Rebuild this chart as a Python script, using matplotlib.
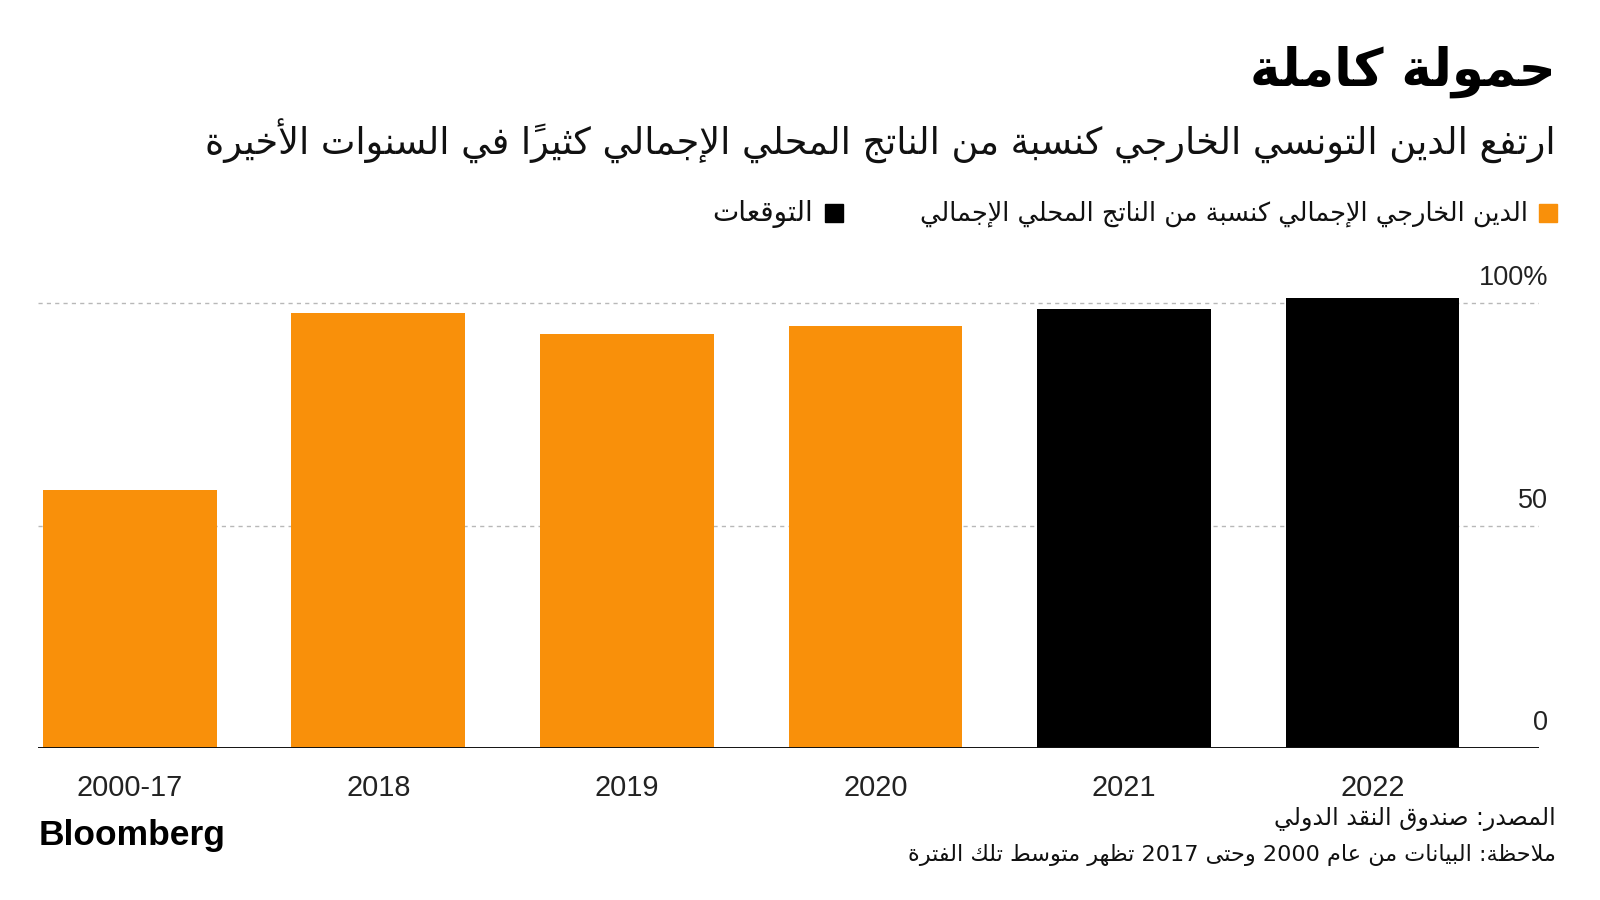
import matplotlib
matplotlib.use('Agg')
import matplotlib.pyplot as plt
from matplotlib.patches import Rectangle

# data
cats = ['2000-17', '2018', '2019', '2020', '2021', '2022']
vals = [58.0, 97.7, 93.1, 94.9, 98.8, 101.1]
forecast = [False, False, False, False, True, True]
y_ticks = [0, 50, 100]
y_tick_labels = ['0', '50', '100%']

title = 'حمولة كاملة'
subtitle = 'ارتفع الدين التونسي الخارجي كنسبة من الناتج المحلي الإجمالي كثيراً في السنوات الأخيرة'
legend_hist = 'الدين الخارجي الإجمالي كنسبة من الناتج المحلي الإجمالي'
legend_fc = 'التوقعات'
source = 'المصدر: صندوق النقد الدولي'
note = 'ملاحظة: البيانات من عام 2000 وحتى 2017 تظهر متوسط تلك الفترة'

ORANGE = '#F9900A'
AR = ['DejaVu Sans']
LAT = ['Liberation Sans', 'DejaVu Sans']

### arabic presentation forms (isolated, final, initial, medial)
FORMS = {
    'ء': ('\uFE80',),
    'آ': ('\uFE81', '\uFE82'), 'أ': ('\uFE83', '\uFE84'), 'ؤ': ('\uFE85', '\uFE86'),
    'إ': ('\uFE87', '\uFE88'), 'ئ': ('\uFE89', '\uFE8A', '\uFE8B', '\uFE8C'),
    'ا': ('\uFE8D', '\uFE8E'), 'ب': ('\uFE8F', '\uFE90', '\uFE91', '\uFE92'),
    'ة': ('\uFE93', '\uFE94'), 'ت': ('\uFE95', '\uFE96', '\uFE97', '\uFE98'),
    'ث': ('\uFE99', '\uFE9A', '\uFE9B', '\uFE9C'), 'ج': ('\uFE9D', '\uFE9E', '\uFE9F', '\uFEA0'),
    'ح': ('\uFEA1', '\uFEA2', '\uFEA3', '\uFEA4'), 'خ': ('\uFEA5', '\uFEA6', '\uFEA7', '\uFEA8'),
    'د': ('\uFEA9', '\uFEAA'), 'ذ': ('\uFEAB', '\uFEAC'), 'ر': ('\uFEAD', '\uFEAE'),
    'ز': ('\uFEAF', '\uFEB0'), 'س': ('\uFEB1', '\uFEB2', '\uFEB3', '\uFEB4'),
    'ش': ('\uFEB5', '\uFEB6', '\uFEB7', '\uFEB8'), 'ص': ('\uFEB9', '\uFEBA', '\uFEBB', '\uFEBC'),
    'ض': ('\uFEBD', '\uFEBE', '\uFEBF', '\uFEC0'), 'ط': ('\uFEC1', '\uFEC2', '\uFEC3', '\uFEC4'),
    'ظ': ('\uFEC5', '\uFEC6', '\uFEC7', '\uFEC8'), 'ع': ('\uFEC9', '\uFECA', '\uFECB', '\uFECC'),
    'غ': ('\uFECD', '\uFECE', '\uFECF', '\uFED0'), 'ف': ('\uFED1', '\uFED2', '\uFED3', '\uFED4'),
    'ق': ('\uFED5', '\uFED6', '\uFED7', '\uFED8'), 'ك': ('\uFED9', '\uFEDA', '\uFEDB', '\uFEDC'),
    'ل': ('\uFEDD', '\uFEDE', '\uFEDF', '\uFEE0'), 'م': ('\uFEE1', '\uFEE2', '\uFEE3', '\uFEE4'),
    'ن': ('\uFEE5', '\uFEE6', '\uFEE7', '\uFEE8'), 'ه': ('\uFEE9', '\uFEEA', '\uFEEB', '\uFEEC'),
    'و': ('\uFEED', '\uFEEE'), 'ى': ('\uFEEF', '\uFEF0'),
    'ي': ('\uFEF1', '\uFEF2', '\uFEF3', '\uFEF4'),
}
LAM_ALEF = {'آ': ('\uFEF5', '\uFEF6'), 'أ': ('\uFEF7', '\uFEF8'),
            'إ': ('\uFEF9', '\uFEFA'), 'ا': ('\uFEFB', '\uFEFC')}


def is_mark(c):
    return '\u064B' <= c <= '\u0652'


def ar(s):
    # shape arabic letters + put in visual (left to right) order
    toks = []
    i = 0
    while i < len(s):
        if s[i] == 'ل' and i + 1 < len(s) and s[i + 1] in LAM_ALEF:
            toks.append(('LA', s[i + 1])); i += 2
        else:
            toks.append(('C', s[i])); i += 1

    def joins(t):
        return t[0] == 'LA' or (t[1] in FORMS and t[1] != 'ء')

    def dual(t):
        return t[0] == 'C' and t[1] in FORMS and len(FORMS[t[1]]) == 4

    clusters = []
    for k, t in enumerate(toks):
        if t[0] == 'C' and is_mark(t[1]):
            if clusters:
                clusters[-1] += t[1]
            else:
                clusters.append(t[1])
            continue
        if t[0] == 'C' and t[1] not in FORMS:
            clusters.append(t[1]); continue
        p = k - 1
        while p >= 0 and toks[p][0] == 'C' and is_mark(toks[p][1]): p -= 1
        n = k + 1
        while n < len(toks) and toks[n][0] == 'C' and is_mark(toks[n][1]): n += 1
        cp = p >= 0 and dual(toks[p]) and joins(t)
        cn = n < len(toks) and dual(t) and joins(toks[n])
        if t[0] == 'LA':
            clusters.append(LAM_ALEF[t[1]][1 if cp else 0]); continue
        f = FORMS[t[1]]
        if cp and cn: g = f[3]
        elif cp: g = f[1]
        elif cn: g = f[2]
        else: g = f[0]
        clusters.append(g)
    vis = clusters[::-1]
    res = []; run = []
    for c in vis:
        if c.isdigit():
            run.append(c)
        else:
            if run: res.extend(run[::-1]); run = []
            res.append(c)
    if run: res.extend(run[::-1])
    return ''.join(res)


fig = plt.figure(figsize=(16, 9), dpi=100)
fig.patch.set_facecolor('white')
ax = fig.add_axes([38 / 1600, 1 - 748 / 900, 1501 / 1600, 467 / 900])

x = list(range(len(cats)))
colors = ['black' if f else ORANGE for f in forecast]
ax.bar(x, vals, width=0.70, color=colors, zorder=3)
ax.set_xlim(-0.37, 5.67)
ax.set_ylim(0, 105)

for v in y_ticks[1:]:
    ax.axhline(v, color='#b8b8b8', lw=1, ls=(0, (3, 3)), zorder=1)
ax.axhline(0, color='#111111', lw=1.4, zorder=4)

for s in ax.spines.values():
    s.set_visible(False)
ax.set_yticks([])
ax.set_xticks(x)
ax.set_xticklabels(cats, fontsize=20.8, family=LAT, color='#222222')
ax.tick_params(axis='x', length=0, pad=19)

for v, lab in zip(y_ticks, y_tick_labels):
    ax.annotate(lab, xy=(1, v), xycoords=('axes fraction', 'data'), xytext=(9, 12),
                textcoords='offset pixels', ha='right', va='bottom',
                fontsize=19.5, family=LAT, color='#222222')

r = fig.canvas.get_renderer()


def fit(t, w_px):
    w = t.get_window_extent(r).width
    t.set_fontsize(t.get_fontsize() * w_px / w)


t = fig.text(1556 / 1600, 1 - 72 / 900, ar(title), ha='right', va='center',
             fontsize=40, fontweight='bold', family=AR, color='black')
fit(t, 306)
t = fig.text(1556 / 1600, 1 - 141 / 900, ar(subtitle), ha='right', va='center',
             fontsize=24, family=AR, color='#111111')
fit(t, 1355)

fig.add_artist(Rectangle((1539 / 1600, 1 - 222 / 900), 18 / 1600, 18 / 900,
                         color=ORANGE, transform=fig.transFigure))
t = fig.text(1528 / 1600, 1 - 214 / 900, ar(legend_hist), ha='right', va='center',
             fontsize=18, family=AR, color='#111111')
fit(t, 608)
fig.add_artist(Rectangle((825 / 1600, 1 - 222 / 900), 18 / 1600, 18 / 900,
                         color='black', transform=fig.transFigure))
t = fig.text(813 / 1600, 1 - 214 / 900, ar(legend_fc), ha='right', va='center',
             fontsize=18, family=AR, color='#111111')
fit(t, 101)

t = fig.text(1556 / 1600, 1 - 819 / 900, ar(source), ha='right', va='center',
             fontsize=16, family=AR, color='#111111')
fit(t, 281)
t = fig.text(1556 / 1600, 1 - 855 / 900, ar(note), ha='right', va='center',
             fontsize=16, family=AR, color='#111111')
fit(t, 650)

t = fig.text(39 / 1600, 1 - 835 / 900, 'Bloomberg', ha='left', va='center',
             fontsize=25, fontweight='bold', family=LAT, color='black')
fit(t, 187)

fig.savefig('out.png', dpi=100, facecolor='white')
